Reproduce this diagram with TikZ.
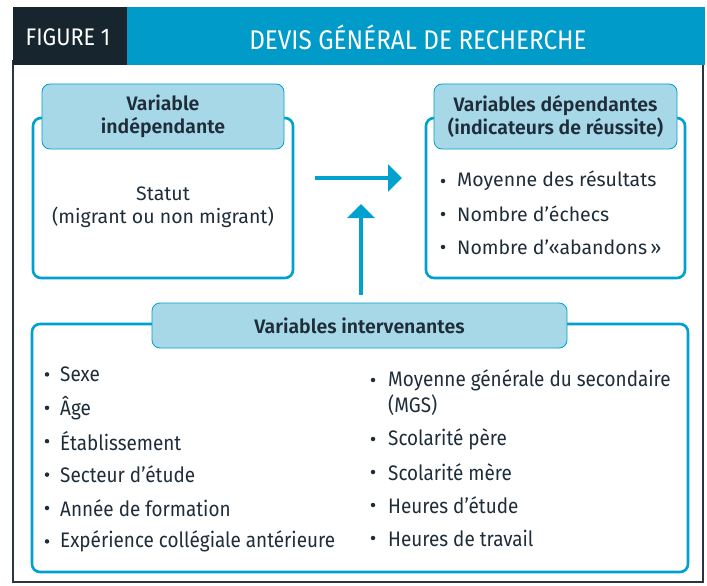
\documentclass[tikz,border=0pt]{standalone}
\usepackage{fontspec}
\setmainfont{Fira Sans}[BoldFont={Fira Sans SemiBold}]
\newfontfamily\condfont{Fira Sans}[FakeStretch=0.9]
\newfontfamily\listfont{Fira Sans}[FakeStretch=0.9]
\usetikzlibrary{arrows.meta}
\definecolor{hdrblue}{HTML}{009BC9}
\definecolor{hdrdark}{HTML}{17252F}
\definecolor{lblfill}{HTML}{A7D8E8}
\definecolor{boxblue}{HTML}{00A0CF}
\definecolor{txt}{HTML}{1F2D3A}
\definecolor{frame}{HTML}{2B3540}
\tikzset{
  outerbox/.style={draw=boxblue, line width=2.6pt, rounded corners=8pt, fill=white, inner sep=0pt},
  lblbox/.style={draw=boxblue, line width=0.8pt, rounded corners=8pt, fill=lblfill, inner sep=0pt, align=center, text=txt, font=\fontsize{19.5}{23.5}\selectfont\bfseries},
  bodytxt/.style={text=txt, font=\fontsize{19.5}{23.5}\selectfont, align=center, inner sep=0pt},
  itemtxt/.style={text=txt, font=\fontsize{19.5}{23}\selectfont, anchor=west, inner sep=0pt},
  listtxt/.style={text=txt, font=\fontsize{21}{25}\selectfont\listfont, anchor=west, inner sep=0pt},
  bul/.style={circle, fill=txt, inner sep=0pt, minimum size=4.5pt},
  flow/.style={draw=boxblue, line width=3.6pt, -{Triangle[length=14pt, width=27pt]}},
  hdrtxt/.style={text=white, inner sep=0pt}
}
\begin{document}
\begin{tikzpicture}[x=1pt, y=-1pt]
\useasboundingbox (0,0) rectangle (707,586);
% frame
\draw[frame, line width=1.3pt] (13,60) -- (13,582) -- (703,582) -- (703,60);
% header
\fill[hdrdark] (13,7) rectangle (127,65);
\fill[hdrblue] (127,7) rectangle (705,65);
\node[hdrtxt, font=\fontsize{24}{24}\selectfont\condfont] (fig) at (68,37) {FIGURE 1};
\node[hdrtxt, font=\fontsize{27}{27}\selectfont\condfont] (title) at (418,37) {DEVIS GÉNÉRAL DE RECHERCHE};
% independent
\node[outerbox, minimum width=260pt, minimum height=160pt] (indep) at (163,198) {};
\node[lblbox, minimum width=242pt, minimum height=65pt] (indeplab) at (163,116.5) {Variable\\indépendante};
\node[bodytxt] (statut) at (163,207) {Statut\\(migrant ou non migrant)};
% dependent
\node[outerbox, minimum width=259pt, minimum height=160pt] (dep) at (555.5,198) {};
\node[lblbox, minimum width=243pt, minimum height=65pt] (deplab) at (555.5,116.5) {Variables dépendantes\\(indicateurs de réussite)};
\node[bul] (b1) at (443,181) {};
\node[itemtxt] (d1) at (457,181) {Moyenne des résultats};
\node[bul] (b2) at (443,214) {};
\node[itemtxt] (d2) at (457,214) {Nombre d’échecs};
\node[bul] (b3) at (443,247) {};
\node[itemtxt] (d3) at (457,247) {Nombre d’«abandons\,»};
% intervening
\node[outerbox, minimum width=656pt, minimum height=248pt] (inter) at (360,448) {};
\node[lblbox, minimum width=415pt, minimum height=45pt] (interlab) at (359.5,325.5) {Variables intervenantes};
% left column
\foreach \t [count=\i] in {Sexe, Âge, Établissement, Secteur d’étude, Année de formation, Expérience collégiale antérieure}{
  \node[bul] (lb\i) at (47,{341+33.4*\i}) {};
  \node[listtxt] (l\i) at (60,{341+33.4*\i}) {\t};
}
% right column
\node[bul] (rb1) at (373,380) {};
\node[listtxt] (r1) at (388,380) {Moyenne générale du secondaire};
\node[listtxt] (r1b) at (388,405) {(MGS)};
\node[bul] (rb2) at (373,439) {};
\node[listtxt] (r2) at (388,439) {Scolarité père};
\node[bul] (rb3) at (373,472) {};
\node[listtxt] (r3) at (388,472) {Scolarité mère};
\node[bul] (rb4) at (373,505) {};
\node[listtxt] (r4) at (388,505) {Heures d’étude};
\node[bul] (rb5) at (373,538) {};
\node[listtxt] (r5) at (388,538) {Heures de travail};
% arrows
\coordinate (hs) at (315,178);
\coordinate (he) at (402,178);
\coordinate (vs) at (361,295);
\coordinate (ve) at (361,204);
\draw[flow] (hs) -- (he);
\draw[flow] (vs) -- (ve);
\end{tikzpicture}
\end{document}
